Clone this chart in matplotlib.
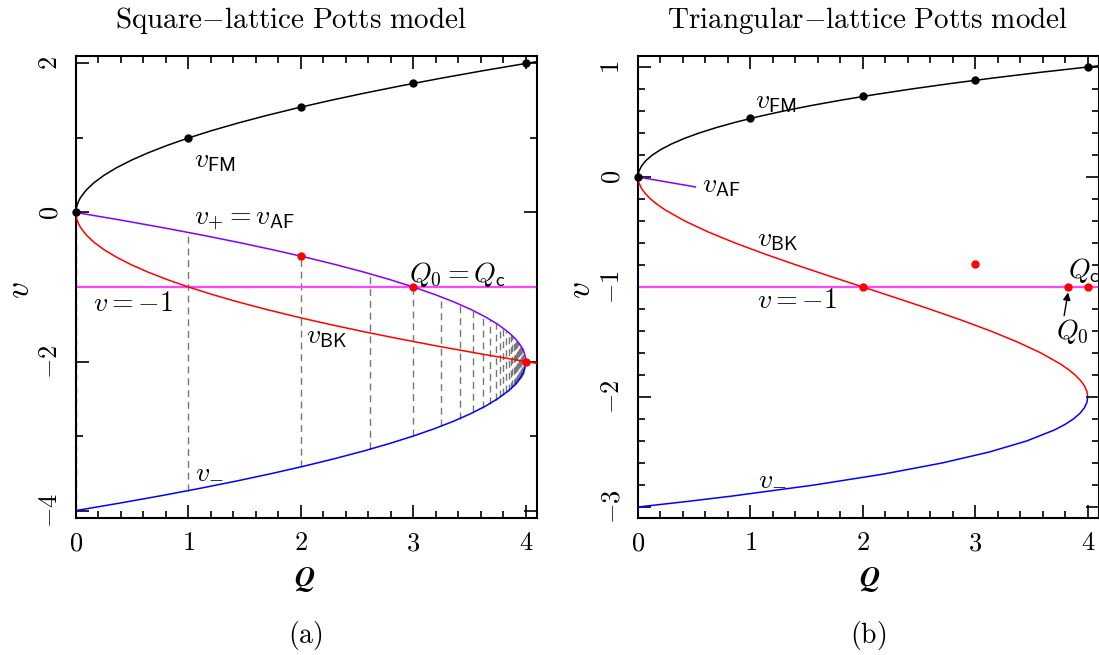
import matplotlib
matplotlib.use("Agg")
import matplotlib.pyplot as plt
from matplotlib.ticker import FixedLocator, FixedFormatter, MultipleLocator

plt.rcParams['mathtext.fontset'] = 'cm'
plt.rcParams['font.family'] = ['DejaVu Serif']

# ---------------- Square lattice data ----------------
sq_fm_Q = [0, 0.0025, 0.01, 0.0225, 0.04, 0.09, 0.16, 0.25, 0.36, 0.49, 0.64, 0.81, 1.0,
           1.21, 1.44, 1.69, 1.96, 2.25, 2.56, 2.89, 3.24, 3.61, 4.0, 4.1006]
sq_fm_v = [0, 0.05, 0.1, 0.15, 0.2, 0.3, 0.4, 0.5, 0.6, 0.7, 0.8, 0.9, 1.0,
           1.1, 1.2, 1.3, 1.4, 1.5, 1.6, 1.7, 1.8, 1.9, 2.0, 2.025]
sq_bk_Q = sq_fm_Q
sq_bk_v = [0, -0.05, -0.1, -0.15, -0.2, -0.3, -0.4, -0.5, -0.6, -0.7, -0.8, -0.9, -1.0,
           -1.1, -1.2, -1.3, -1.4, -1.5, -1.6, -1.7, -1.8, -1.9, -2.0, -2.025]
sq_pm_Q = [0, 0.39, 0.76, 1.11, 1.44, 1.75, 2.04, 2.31, 2.56, 2.79, 3.0, 3.19, 3.36, 3.51,
           3.64, 3.75, 3.84, 3.8775, 3.91, 3.9375, 3.96, 3.9775, 3.99, 3.9975, 4.0]
sq_plus_v = [0, -0.1, -0.2, -0.3, -0.4, -0.5, -0.6, -0.7, -0.8, -0.9, -1.0, -1.1, -1.2, -1.3,
             -1.4, -1.5, -1.6, -1.65, -1.7, -1.75, -1.8, -1.85, -1.9, -1.95, -2.0]
sq_minus_v = [-4.0, -3.9, -3.8, -3.7, -3.6, -3.5, -3.4, -3.3, -3.2, -3.1, -3.0, -2.9, -2.8, -2.7,
              -2.6, -2.5, -2.4, -2.35, -2.3, -2.25, -2.2, -2.15, -2.1, -2.05, -2.0]
beraha_Q = [0.0, 1.0, 2.0, 2.6180, 3.0, 3.2470, 3.4142, 3.5321, 3.6180, 3.6825,
            3.7321, 3.7709, 3.8019, 3.8271, 3.8478, 3.8649, 3.8794, 3.8916, 3.9021, 3.9111,
            3.9190, 3.9258, 3.9319, 3.9372, 3.9419, 3.9461, 3.9499, 3.9533, 3.9563, 3.9591,
            3.9616, 3.9639, 3.9659, 3.9679, 3.9696, 3.9712, 3.9727, 3.9741, 3.9754]
beraha_hi = [0.0, -0.2679, -0.5858, -0.8244, -1.0, -1.1322, -1.2346, -1.3160, -1.3820, -1.4365,
             -1.4824, -1.5214, -1.5550, -1.5842, -1.6098, -1.6325, -1.6527, -1.6708, -1.6871, -1.7019,
             -1.7154, -1.7277, -1.7389, -1.7493, -1.7589, -1.7678, -1.7761, -1.7838, -1.7909, -1.7977,
             -1.8040, -1.8099, -1.8155, -1.8207, -1.8257, -1.8304, -1.8348, -1.8391, -1.8431]
beraha_lo = [-4.0, -3.7321, -3.4142, -3.1756, -3.0, -2.8678, -2.7654, -2.6840, -2.6180, -2.5635,
             -2.5176, -2.4786, -2.4450, -2.4158, -2.3902, -2.3675, -2.3473, -2.3292, -2.3129, -2.2981,
             -2.2846, -2.2723, -2.2611, -2.2507, -2.2411, -2.2322, -2.2239, -2.2162, -2.2091, -2.2023,
             -2.1960, -2.1901, -2.1845, -2.1793, -2.1743, -2.1696, -2.1652, -2.1609, -2.1569]
sq_black_Q = [0, 1, 2, 3, 4]
sq_black_v = [0, 1.0, 1.4142, 1.7321, 2.0]
sq_red_Q = [2, 3, 4]
sq_red_v = [-0.5858, -1.0, -2.0]

# ---------------- Triangular lattice data ----------------
tri_fm_Q = [0, 0.007625, 0.031, 0.070875, 0.128, 0.203125, 0.297, 0.410375, 0.544, 0.698625,
            0.875, 1.073875, 1.296, 1.542125, 1.813, 2.109375, 2.432, 2.781625, 3.159,
            3.564875, 4.0, 4.090601]
tri_fm_v = [0, 0.05, 0.1, 0.15, 0.2, 0.25, 0.3, 0.35, 0.4, 0.45, 0.5, 0.55, 0.6, 0.65, 0.7,
            0.75, 0.8, 0.85, 0.9, 0.95, 1.0, 1.01]
tri_bk_Q = [0, 0.007375, 0.029, 0.064125, 0.112, 0.171875, 0.243, 0.416, 0.625, 0.864, 1.127,
            1.408, 1.701, 2.0, 2.299, 2.592, 2.873, 3.136, 3.375, 3.584, 3.757, 3.828125,
            3.888, 3.935875, 3.971, 3.992625, 4.0]
tri_bk_v = [0, -0.05, -0.1, -0.15, -0.2, -0.25, -0.3, -0.4, -0.5, -0.6, -0.7, -0.8, -0.9, -1.0,
            -1.1, -1.2, -1.3, -1.4, -1.5, -1.6, -1.7, -1.75, -1.8, -1.85, -1.9, -1.95, -2.0]
tri_minus_Q = [4.0, 3.992375, 3.969, 3.929125, 3.872, 3.796875, 3.703, 3.456, 3.125, 2.704,
               2.187, 1.568, 0.841, 0.435125, 0.0]
tri_minus_v = [-2.0, -2.05, -2.1, -2.15, -2.2, -2.25, -2.3, -2.4, -2.5, -2.6, -2.7, -2.8, -2.9,
               -2.95, -3.0]
tri_af_Q = [0.0, 0.51]
tri_af_v = [0.0, -0.09]
tri_black_Q = [0, 1, 2, 3, 4]
tri_black_v = [0, 0.5321, 0.7321, 0.8794, 1.0]
tri_red_Q = [2, 3, 3.82, 4]
tri_red_v = [-1.0, -0.79, -1.0, -1.0]

BLACK = 'black'
RED = '#ff0000'
PURPLE = '#8000ff'
BLUE = '#0000ff'
MAGENTA = '#ff44ff'
LW = 1.1
FS_TICK = 19
FS_TXT = 20

W, H = 1099, 655
fig = plt.figure(figsize=(W / 100, H / 100), dpi=100)
ax1 = fig.add_axes([76 / W, 137 / H, 461 / W, 462 / H])
ax2 = fig.add_axes([638 / W, 137 / H, 461 / W, 462 / H])


def style_axes(ax, xmaj, ymaj, ymin_step, ylim):
    ax.set_xlim(0, 4.1)
    ax.set_ylim(*ylim)
    ax.xaxis.set_major_locator(FixedLocator(xmaj))
    ax.xaxis.set_major_formatter(FixedFormatter(['$%d$' % t for t in xmaj]))
    ax.xaxis.set_minor_locator(MultipleLocator(0.2))
    ax.yaxis.set_major_locator(FixedLocator(ymaj))
    ax.yaxis.set_major_formatter(FixedFormatter(['$%d$' % t for t in ymaj]))
    ax.yaxis.set_minor_locator(MultipleLocator(ymin_step))
    ax.tick_params(which='both', direction='in', top=True, right=True, width=1.2,
                   labelsize=FS_TICK)
    ax.tick_params(which='major', length=9.5)
    ax.tick_params(which='minor', length=4.8)
    ax.tick_params(axis='x', pad=9)
    ax.tick_params(axis='y', pad=19, labelrotation=90)
    plt.setp(ax.get_yticklabels(), ha='center', va='center')
    for s in ax.spines.values():
        s.set_linewidth(1.5)


style_axes(ax1, [0, 1, 2, 3, 4], [-4, -2, 0, 2], 1.0, (-4.1, 2.1))
style_axes(ax2, [0, 1, 2, 3, 4], [-3, -2, -1, 0, 1], 0.2, (-3.1, 1.1))

# ---------------- Left panel ----------------
ax1.vlines(beraha_Q, beraha_lo, beraha_hi, colors='#777777', linestyles=(0, (5, 3.5)),
           linewidth=1.0, zorder=1)
ax1.axhline(-1, color=MAGENTA, lw=1.6, zorder=2)
ax1.plot(sq_fm_Q, sq_fm_v, color=BLACK, lw=LW, zorder=3)
ax1.plot(sq_bk_Q, sq_bk_v, color=RED, lw=LW, zorder=4)
ax1.plot(sq_pm_Q, sq_plus_v, color=PURPLE, lw=LW, zorder=3)
ax1.plot(sq_pm_Q, sq_minus_v, color=BLUE, lw=LW, zorder=3)
ax1.plot(sq_black_Q, sq_black_v, 'o', color=BLACK, ms=5, zorder=5, clip_on=False)
ax1.plot(sq_red_Q, sq_red_v, 'o', color=RED, ms=5, zorder=5)

ax1.text(1.05, 0.70, r'$v_{\mathsf{FM}}$', fontsize=FS_TXT, ha='left', va='center')
ax1.text(1.05, -0.09, r'$v_{+}{=}v_{\mathsf{AF}}$', fontsize=FS_TXT, ha='left', va='center')
ax1.text(0.15, -1.22, r'$v=-1$', fontsize=FS_TXT, ha='left', va='center')
ax1.text(2.96, -0.83, r'$Q_{\mathsf{0}}{=}Q_{\mathsf{c}}$', fontsize=FS_TXT, ha='left', va='center')
ax1.text(2.05, -1.67, r'$v_{\mathsf{BK}}$', fontsize=FS_TXT, ha='left', va='center')
ax1.text(1.06, -3.45, r'$v_{-}$', fontsize=FS_TXT, ha='left', va='center')

# ---------------- Right panel ----------------
ax2.axhline(-1, color=MAGENTA, lw=1.6, zorder=2)
ax2.plot(tri_fm_Q, tri_fm_v, color=BLACK, lw=LW, zorder=3)
ax2.plot(tri_bk_Q, tri_bk_v, color=RED, lw=LW, zorder=3)
ax2.plot(tri_minus_Q, tri_minus_v, color=BLUE, lw=LW, zorder=3)
ax2.plot(tri_af_Q, tri_af_v, color=PURPLE, lw=LW, zorder=3)
ax2.plot(tri_black_Q, tri_black_v, 'o', color=BLACK, ms=5, zorder=5, clip_on=False)
ax2.plot(tri_red_Q, tri_red_v, 'o', color=RED, ms=5, zorder=5)

ax2.text(1.04, 0.69, r'$v_{\mathsf{FM}}$', fontsize=FS_TXT, ha='left', va='center')
ax2.text(0.57, -0.08, r'$v_{\mathsf{AF}}$', fontsize=FS_TXT, ha='left', va='center')
ax2.text(1.06, -0.57, r'$v_{\mathsf{BK}}$', fontsize=FS_TXT, ha='left', va='center')
ax2.text(1.06, -1.12, r'$v=-1$', fontsize=FS_TXT, ha='left', va='center')
ax2.text(3.72, -1.41, r'$Q_{\mathsf{0}}$', fontsize=FS_TXT, ha='left', va='center')
ax2.text(3.82, -0.85, r'$Q_{\mathsf{c}}$', fontsize=FS_TXT, ha='left', va='center', clip_on=False)
ax2.text(1.07, -2.73, r'$v_{-}$', fontsize=FS_TXT, ha='left', va='center')
ax2.annotate('', xy=(3.825, -1.05), xytext=(3.79, -1.26),
             arrowprops=dict(arrowstyle='-|>', color='black', lw=1.0, mutation_scale=11,
                             shrinkA=0, shrinkB=0))

# ---------------- Figure texts ----------------
def ftext(x, y, s, **kw):
    fig.text(x / W, 1 - y / H, s, ha='center', va='center', **kw)

ftext(291, 21, r'$\mathrm{Square{-}lattice\ Potts\ model}$', fontsize=21)
ftext(868, 21, r'$\mathrm{Triangular{-}lattice\ Potts\ model}$', fontsize=21)
ftext(305, 580, r'$\mathbfit{Q}$', fontsize=20)
ftext(870, 580, r'$\mathbfit{Q}$', fontsize=20)
ftext(20, 290, r'$v$', fontsize=24, rotation=90)
ftext(581, 290, r'$v$', fontsize=24, rotation=90)
ftext(305, 635, r'$\mathrm{(a)}$', fontsize=20)
ftext(868, 635, r'$\mathrm{(b)}$', fontsize=20)

fig.savefig('out.png', dpi=100)
